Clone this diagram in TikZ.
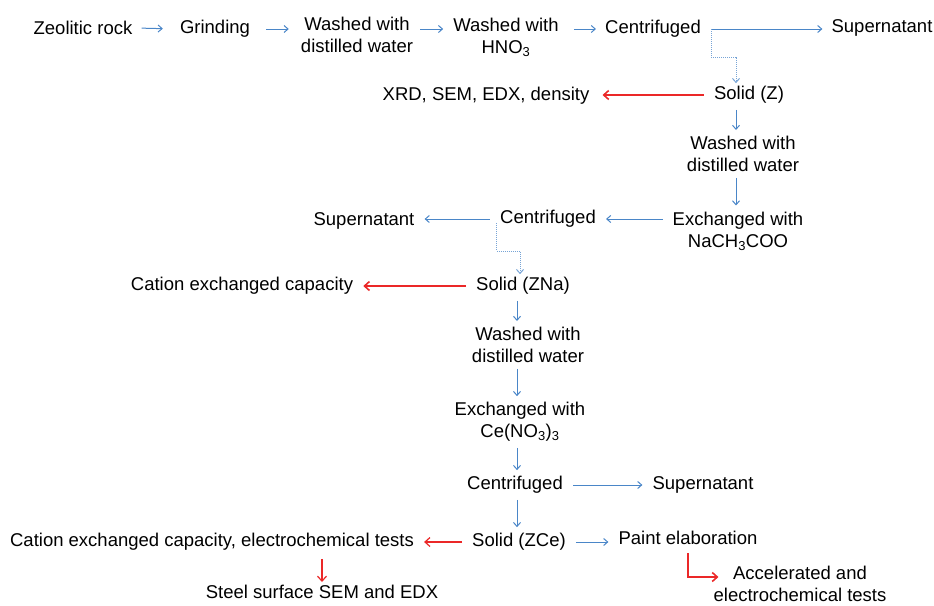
\documentclass[tikz,border=0pt]{standalone}
\usepackage{fontspec}
\setmainfont{Liberation Sans}
\usetikzlibrary{arrows.meta}
\definecolor{flowblue}{RGB}{74,134,200}
\definecolor{flowred}{RGB}{235,40,40}
\tikzset{
  lbl/.style={font=\fontsize{18.5}{22}\selectfont,align=center,inner sep=3pt},
  bluearr/.style={draw=flowblue,line width=1pt,-{Straight Barb[length=4pt,width=7pt]},shorten <=7pt,shorten >=7pt},
  redarr/.style={draw=flowred,line width=1.6pt,-{Straight Barb[length=5pt,width=9pt]},shorten <=7pt,shorten >=7pt},
  dotarr/.style={draw=flowblue!75,line width=1pt,densely dotted,-{Straight Barb[length=4pt,width=7pt]}}
}
\begin{document}
\begin{tikzpicture}[x={(1pt,0pt)},y={(0pt,-1pt)}]
\useasboundingbox (0,0) rectangle (934,605);
\coordinate (zx) at (736,0);
\coordinate (nax) at (520,0);
\coordinate (cex) at (517,0);
% first row
\node[lbl] (rock) at (83,28) {Zeolitic rock};
\node[lbl] (grind) at (215,29) {Grinding};
\node[lbl] (wash1) at (357,35) {Washed with\\distilled water};
\node[lbl] (hno) at (506,37) {Washed with\\HNO\textsubscript{3}};
\node[lbl] (cent1) at (653,29) {Centrifuged};
\node[lbl] (sup1) at (882,28) {Supernatant};
\node[lbl] (solidz) at (749,95) {Solid (Z)};
\node[lbl] (xrd) at (486,96) {XRD, SEM, EDX, density};
\node[lbl] (wash2) at (743,154) {Washed with\\distilled water};
\node[lbl] (exna) at (738,231) {Exchanged with\\NaCH\textsubscript{3}COO};
\node[lbl] (cent2) at (548,219) {Centrifuged};
\node[lbl] (sup2) at (364,221) {Supernatant};
\node[lbl] (solidzna) at (523,286) {Solid (ZNa)};
\node[lbl] (cec1) at (242,286) {Cation exchanged capacity};
\node[lbl] (wash3) at (528,345) {Washed with\\distilled water};
\node[lbl] (exce) at (520,422) {Exchanged with\\Ce(NO\textsubscript{3})\textsubscript{3}};
\node[lbl] (cent3) at (515,485) {Centrifuged};
\node[lbl] (sup3) at (703,485) {Supernatant};
\node[lbl] (solidzce) at (519,542) {Solid (ZCe)};
\node[lbl] (cec2) at (212,542) {Cation exchanged capacity, electrochemical tests};
\node[lbl] (paint) at (688,538) {Paint elaboration};
\node[lbl,inner sep=1pt] (steel) at (322,592) {Steel surface SEM and EDX};
\node[lbl,inner sep=1pt] (accel) at (800,584) {Accelerated and\\electrochemical tests};
% connectors
\draw[bluearr,shorten <=6pt,shorten >=14pt] (rock.east) -- (grind.west);
\draw[bluearr,shorten <=13pt,shorten >=9pt] (grind.east) -- (grind.east -| wash1.west);
\draw[bluearr,shorten <=4pt,shorten >=7pt] (grind.east -| wash1.east) -- (grind.east -| hno.west);
\draw[bluearr,shorten <=12pt,shorten >=6pt] (cent1.west -| hno.east) -- (cent1.west);
\draw[bluearr,shorten <=8pt,shorten >=6pt] (cent1.east) -- (cent1.east -| sup1.west);
\draw[dotarr] ([xshift=7pt]cent1.east) -- ++(0,28) -| (solidz.north -| zx);
\draw[redarr,shorten >=10pt] (solidz.west) -- (solidz.west -| xrd.east);
\draw[bluearr,shorten <=3pt,shorten >=3pt] (solidz.south -| zx) -- (wash2.north -| zx);
\draw[bluearr,shorten <=3pt,shorten >=3pt] (wash2.south -| zx) -- (exna.north -| zx);
\draw[bluearr] (cent2.east -| exna.west) -- (cent2.east);
\draw[bluearr] (cent2.west) -- (cent2.west -| sup2.east);
\draw[dotarr] ([yshift=-4pt]cent2.west) -- ++(0,28) -| (solidzna.north -| nax);
\draw[redarr] (solidzna.west) -- (solidzna.west -| cec1.east);
\draw[bluearr,shorten <=3pt,shorten >=3pt] (solidzna.south -| cex) -- (wash3.north -| cex);
\draw[bluearr,shorten <=3pt,shorten >=3pt] (wash3.south -| cex) -- (exce.north -| cex);
\draw[bluearr,shorten <=3pt,shorten >=3pt] (exce.south -| cex) -- (cent3.north -| cex);
\draw[bluearr] (cent3.east) -- (sup3.west);
\draw[bluearr,shorten <=3pt,shorten >=3pt] (cent3.south -| cex) -- (solidzce.north -| cex);
\draw[redarr,line width=1.2pt] (solidzce.west) -- (cec2.east);
\draw[bluearr] (solidzce.east) -- (solidzce.east -| paint.west);
\draw[redarr,line width=1.2pt,shorten <=5pt,shorten >=2pt] (cec2.south -| steel.north) -- (steel.north);
\draw[redarr,shorten <=5pt,shorten >=-6pt] (paint.south) |- ([yshift=7pt]accel.west);
\end{tikzpicture}
\end{document}
